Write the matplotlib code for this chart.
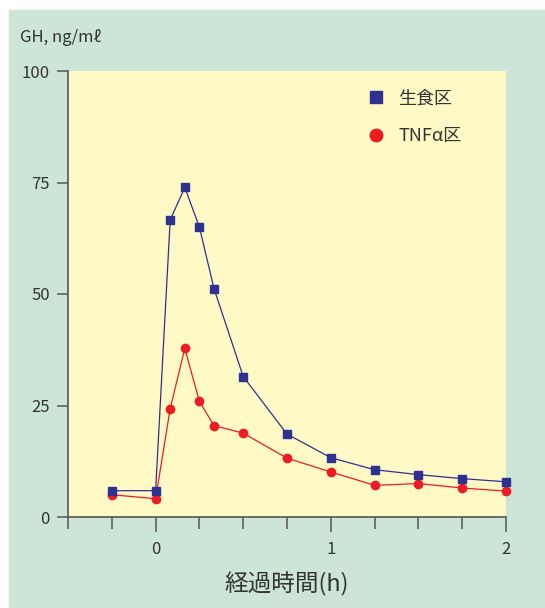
import matplotlib

matplotlib.use("Agg")
import matplotlib.pyplot as plt
from matplotlib.ticker import MultipleLocator

plt.rcParams["font.family"] = ["Noto Sans CJK JP", "DejaVu Sans"]

# 経過時間 (h)
hours = [-0.25, 0, 1 / 12, 1 / 6, 0.25, 1 / 3, 0.5, 0.75, 1.0, 1.25, 1.5, 1.75, 2.0]
saline = [5.9, 5.9, 66.6, 73.9, 65.0, 51.2, 31.5, 18.6, 13.3, 10.6, 9.5, 8.6, 7.9]
tnf = [5.0, 4.1, 24.3, 37.8, 25.9, 20.5, 18.8, 13.2, 10.1, 7.1, 7.5, 6.5, 5.8]
labels = ["生食区", "TNFα区"]

green = "#cce5d6"
yellow = "#fff9c6"
blue = "#2e3192"
red = "#ed1c24"
txt = "#333333"
axis_c = "#555555"

fig = plt.figure(figsize=(5.45, 6.08), dpi=100)
fig.patch.set_facecolor("white")
# 背景の緑の枠
fig.patches.append(plt.Rectangle((9 / 545, 0), 1, 1 - 10 / 608,
                                 transform=fig.transFigure, color=green, zorder=-10))

ax = fig.add_axes([68 / 545, 1 - 517 / 608, (506 - 68) / 545, (517 - 71) / 608])
ax.set_facecolor(yellow)

ax.plot(hours, saline, color=blue, lw=0.9, marker="s", ms=6, mec=blue, mfc=blue,
        label=labels[0], clip_on=False, zorder=3)
ax.plot(hours, tnf, color=red, lw=0.9, marker="o", ms=6, mec=red, mfc=red,
        label=labels[1], clip_on=False, zorder=2)

ax.set_xlim(-0.5, 2.0)
ax.set_ylim(0, 100)
ax.xaxis.set_major_locator(MultipleLocator(1))
ax.xaxis.set_minor_locator(MultipleLocator(0.25))
ax.yaxis.set_major_locator(MultipleLocator(25))

for s in ["top", "right"]:
    ax.spines[s].set_visible(False)
for s in ["left", "bottom"]:
    ax.spines[s].set_color(axis_c)
    ax.spines[s].set_linewidth(1.2)

ax.tick_params(axis="x", which="major", length=11, width=1.1, color=axis_c,
               labelsize=12, labelcolor=txt, pad=6)
ax.tick_params(axis="x", which="minor", length=8.5, width=1.1, color=axis_c)
ax.tick_params(axis="y", which="major", length=8, width=1.1, color=axis_c,
               labelsize=12, labelcolor=txt, pad=5)

ax.set_xlabel("経過時間(h)", fontsize=17, color=txt, labelpad=10)
fig.text(20 / 545, 1 - 38 / 608, "GH, ng/mℓ", fontsize=12, color=txt,
         va="center", ha="left")

leg = ax.legend(loc="upper left", bbox_to_anchor=(0.645, 0.995), frameon=False,
                fontsize=13, markerscale=1.5, handlelength=1.0, handletextpad=0.75,
                labelspacing=1.1)
for line in leg.get_lines():
    line.set_linestyle("none")
for t in leg.get_texts():
    t.set_color(txt)

fig.savefig("out.png", dpi=100)
